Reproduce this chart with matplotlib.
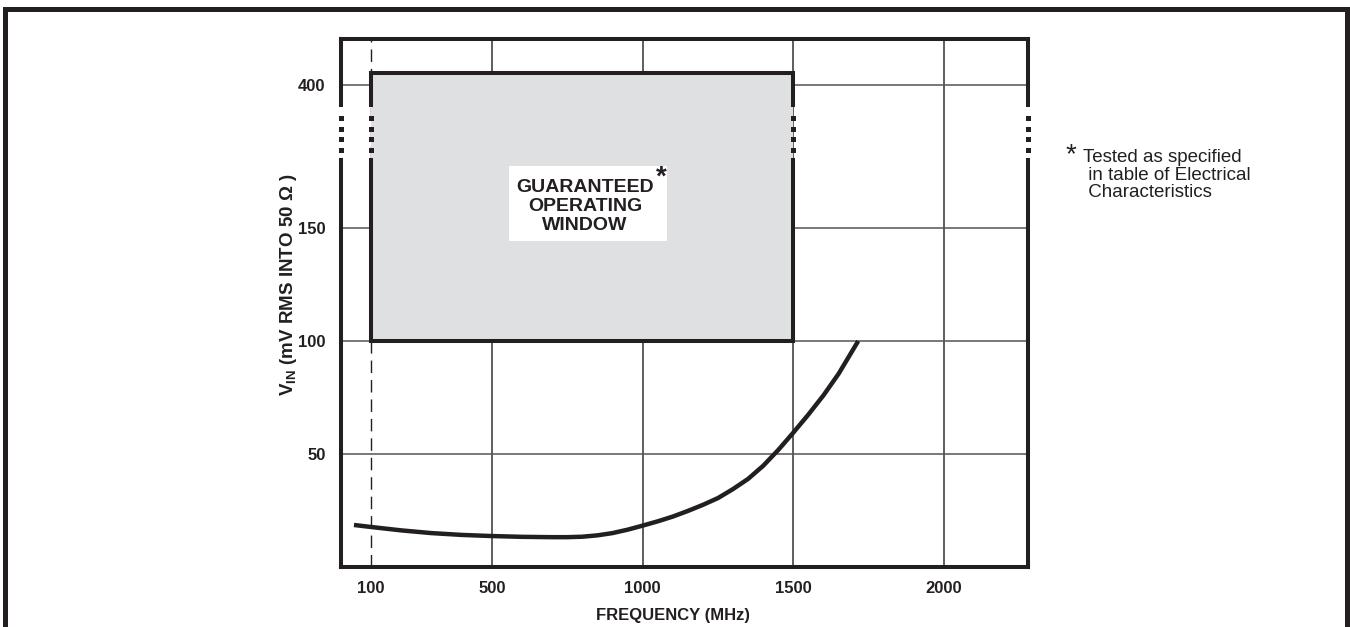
import numpy as np
import matplotlib
matplotlib.use("Agg")
import matplotlib.pyplot as plt
from matplotlib.patches import Rectangle
from matplotlib.transforms import blended_transform_factory

plt.rcParams['font.family'] = ['Liberation Sans', 'DejaVu Sans']
plt.rcParams['mathtext.fontset'] = 'custom'
plt.rcParams['mathtext.rm'] = 'Liberation Sans'
plt.rcParams['mathtext.bf'] = 'Liberation Sans:bold'

# data
freq = [43, 100, 200, 300, 400, 500, 600, 700, 750, 800, 850, 900, 950, 1000,
        1050, 1100, 1150, 1200, 1250, 1300, 1350, 1400, 1450, 1500, 1550,
        1600, 1650, 1715]
vin = [18.6, 17.7, 16.2, 15.0, 14.2, 13.7, 13.35, 13.2, 13.2, 13.4, 14.0,
       15.0, 16.5, 18.3, 20.2, 22.3, 24.8, 27.5, 30.5, 34.5, 39.0, 44.8,
       51.8, 59.5, 67.5, 76.0, 85.5, 100.0]
x_ticks = [100, 500, 1000, 1500, 2000]
x_grid = [500, 1000, 1500, 2000]
y_ticks = [50, 100, 150, 400]
window_f = (100, 1500)
window_v = (100, 425)

ink = '#231f20'
fill = '#dfe0e1'

# broken y axis: linear 0..150, then jump to 400
yv = [0, 150, 400, 500]
yp = [0, 3, 4.27, 4.673]
def fwd(v):
    return np.interp(v, yv, yp)
def inv(p):
    return np.interp(p, yp, yv)

fig = plt.figure(figsize=(13.5, 6.27), dpi=100)
ax = fig.add_axes([341/1350, 1 - 567/627, 687/1350, 528/627])
ax.set_yscale('function', functions=(fwd, inv))
ax.set_xlim(0, 2278)
ax.set_ylim(0, 500)

# grid
for g in x_grid:
    ax.axvline(g, color='#333333', lw=1.1, zorder=1)
for g in y_ticks:
    ax.axhline(g, color='#555555', lw=1.1, zorder=1)
ax.axvline(100, color=ink, lw=1.0, dashes=(9, 5), zorder=1)

# operating window
ax.add_patch(Rectangle((window_f[0], window_v[0]), window_f[1] - window_f[0],
                       window_v[1] - window_v[0], facecolor=fill,
                       edgecolor='none', zorder=2))
ax.hlines(window_v, window_f[0], window_f[1], color=ink, lw=2.9, zorder=3,
          capstyle='projecting')

gap_lo, gap_hi = inv(3.60), inv(4.09)
dots = inv(np.linspace(3.695, 3.973, 4))
ta = blended_transform_factory(ax.transAxes, ax.transData)

def broken(x, y0, y1, tr):
    ax.plot([x, x], [y0, gap_lo], color=ink, lw=2.9, transform=tr,
            clip_on=False, solid_capstyle='projecting', zorder=4)
    ax.plot([x, x], [gap_hi, y1], color=ink, lw=2.9, transform=tr,
            clip_on=False, solid_capstyle='projecting', zorder=4)
    ax.plot([x] * len(dots), dots, 's', color=ink, ms=3.6, mew=0,
            transform=tr, clip_on=False, zorder=4)

broken(0, 0, 500, ta)
broken(1, 0, 500, ta)
broken(window_f[0], window_v[0], window_v[1], ax.transData)
broken(window_f[1], window_v[0], window_v[1], ax.transData)

# curve
ax.plot(freq, vin, color=ink, lw=3.2, zorder=5, solid_capstyle='butt',
        solid_joinstyle='round')

for s in ['left', 'right']:
    ax.spines[s].set_visible(False)
for s in ['top', 'bottom']:
    ax.spines[s].set_linewidth(2.9)
    ax.spines[s].set_color(ink)
    ax.spines[s].set_capstyle('projecting')

ax.set_xticks(x_ticks)
ax.set_xticklabels([str(t) for t in x_ticks])
ax.set_yticks(y_ticks)
ax.set_yticklabels([str(t) for t in y_ticks])
ax.yaxis.set_minor_locator(matplotlib.ticker.NullLocator())
ax.tick_params(length=0, labelsize=12, colors=ink)
ax.tick_params(axis='y', pad=11)
ax.tick_params(axis='x', pad=10)
for lab in ax.get_xticklabels() + ax.get_yticklabels():
    lab.set_fontweight('bold')

ax.text(0.483, -0.091, 'FREQUENCY (MHz)', transform=ax.transAxes,
        ha='center', va='center', fontsize=12, fontweight='bold', color=ink)
ax.text(-0.077, 0.535, r'$\mathbf{V_{IN}}$ (mV RMS INTO 50 Ω )',
        transform=ax.transAxes, rotation=90, ha='center', va='center',
        fontsize=13.5, fontweight='bold', color=ink)

# label inside window
ax.add_patch(Rectangle((0.2445, 0.6174), 0.23, 0.1421, transform=ax.transAxes,
                       facecolor='white', edgecolor='none', zorder=6))
ax.text(0.355, 0.683, 'GUARANTEED\nOPERATING\nWINDOW', transform=ax.transAxes,
        ha='center', va='center', fontsize=14, fontweight='bold', color=ink,
        linespacing=1.15, zorder=7)
ax.text(0.466, 0.738, '*', transform=ax.transAxes, ha='center', va='center',
        fontsize=20, fontweight='bold', color=ink, zorder=7)

# footnote
fig.text(1071/1350, 1 - 155/627, '*', ha='center', va='center', fontsize=20,
         color=ink)
fig.text(1083/1350, 1 - 149/627,
         'Tested as specified\n in table of Electrical\n Characteristics',
         ha='left', va='top', fontsize=13.5, color=ink, linespacing=1.05)

# outer frame
fig.add_artist(Rectangle((4.5/1350, -0.1), 1 - 8/1350, 1.1 - 8.5/627,
                         transform=fig.transFigure, facecolor='none',
                         edgecolor=ink, lw=3.6))

fig.savefig('out.png', dpi=100)
